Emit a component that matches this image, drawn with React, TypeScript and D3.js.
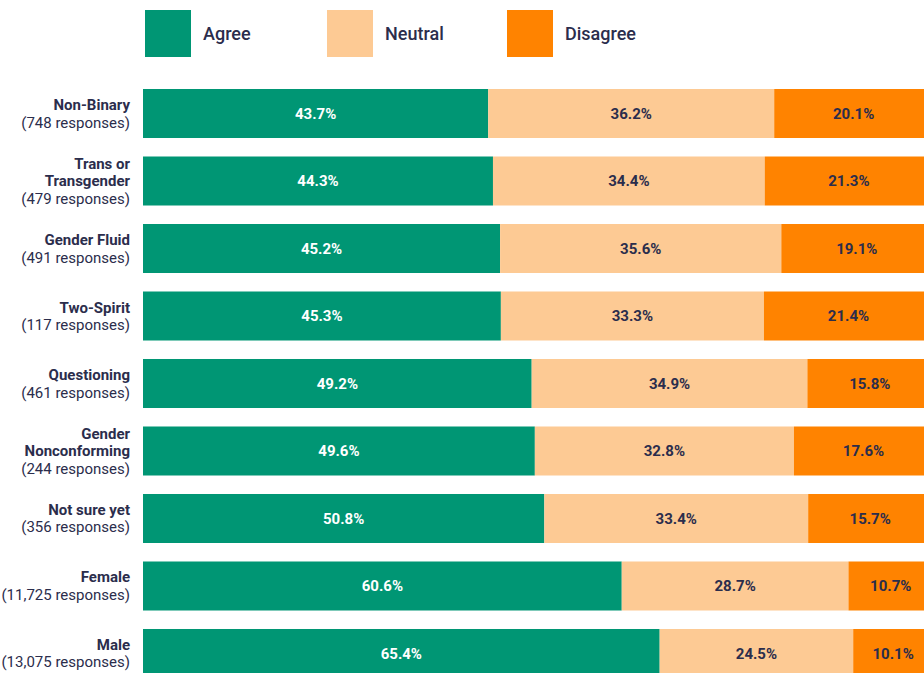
import React from "react";
import * as d3 from "d3";

const categories: string[][] = [
  ["Non-Binary"],
  ["Trans or", "Transgender"],
  ["Gender Fluid"],
  ["Two-Spirit"],
  ["Questioning"],
  ["Gender", "Nonconforming"],
  ["Not sure yet"],
  ["Female"],
  ["Male"],
];
const responses: string[] = [
  "(748 responses)",
  "(479 responses)",
  "(491 responses)",
  "(117 responses)",
  "(461 responses)",
  "(244 responses)",
  "(356 responses)",
  "(11,725 responses)",
  "(13,075 responses)",
];
const agree = [43.7, 44.3, 45.2, 45.3, 49.2, 49.6, 50.8, 60.6, 65.4];
const neutral = [36.2, 34.4, 35.6, 33.3, 34.9, 32.8, 33.4, 28.7, 24.5];
const disagree = [20.1, 21.3, 19.1, 21.4, 15.8, 17.6, 15.7, 10.7, 10.1];
const seriesNames = ["Agree", "Neutral", "Disagree"];

const COLORS = ["#009674", "#fdca94", "#ff8300"];
const TEXT_COLORS = ["#ffffff", "#2b2d4c", "#2b2d4c"];
const DARK = "#2b2d4c";
const FONT = "Roboto, 'Noto Sans', sans-serif";

export default function App() {
  const W = 924;
  const H = 673;
  const x = d3.scaleLinear().domain([0, 100]).range([143, 933]);
  const idx = categories.map((_, i) => i);
  const y = d3
    .scaleBand<number>()
    .domain(idx)
    .range([89, 678])
    .paddingInner(0.274)
    .paddingOuter(0);
  const rows = idx.map((i) => ({ i, Agree: agree[i], Neutral: neutral[i], Disagree: disagree[i] }));
  const stacked = d3.stack<any>().keys(seriesNames)(rows);
  const legendX = [145, 327, 507];
  const bw = y.bandwidth();

  return (
    <svg
      width={W}
      height={H}
      style={{ position: "absolute", left: 0, top: 0, overflow: "hidden", background: "#fff" }}
      fontFamily={FONT}
    >
      {seriesNames.map((s, k) => (
        <g key={s}>
          <rect x={legendX[k]} y={10} width={46} height={47} fill={COLORS[k]} />
          <text
            x={legendX[k] + 58}
            y={34}
            dy="0.35em"
            fontSize={18}
            fontWeight={500}
            fill={DARK}
          >
            {s}
          </text>
        </g>
      ))}
      {stacked.map((layer, k) => (
        <g key={layer.key}>
          {layer.map((d, i) => {
            const x0 = x(d[0]);
            const x1 = x(d[1]);
            const yy = y(i)!;
            return (
              <g key={i}>
                <rect x={x0} y={yy} width={x1 - x0} height={bw} fill={COLORS[k]} />
                <text
                  x={(x0 + x1) / 2}
                  y={yy + bw / 2}
                  dy="0.35em"
                  textAnchor="middle"
                  fontSize={15}
                  fontWeight={700}
                  fill={TEXT_COLORS[k]}
                >
                  {(d[1] - d[0]).toFixed(1)}%
                </text>
              </g>
            );
          })}
        </g>
      ))}
      {categories.map((lines, i) => {
        const all = [...lines, responses[i]];
        const lh = 17.5;
        const cy = y(i)! + bw / 2;
        const start = cy - ((all.length - 1) * lh) / 2;
        return (
          <text key={i} textAnchor="end" fontSize={15} fill={DARK}>
            {all.map((t, j) => (
              <tspan
                key={j}
                x={130}
                y={start + j * lh}
                dy="0.35em"
                fontWeight={j < lines.length ? 700 : 400}
              >
                {t}
              </tspan>
            ))}
          </text>
        );
      })}
    </svg>
  );
}
